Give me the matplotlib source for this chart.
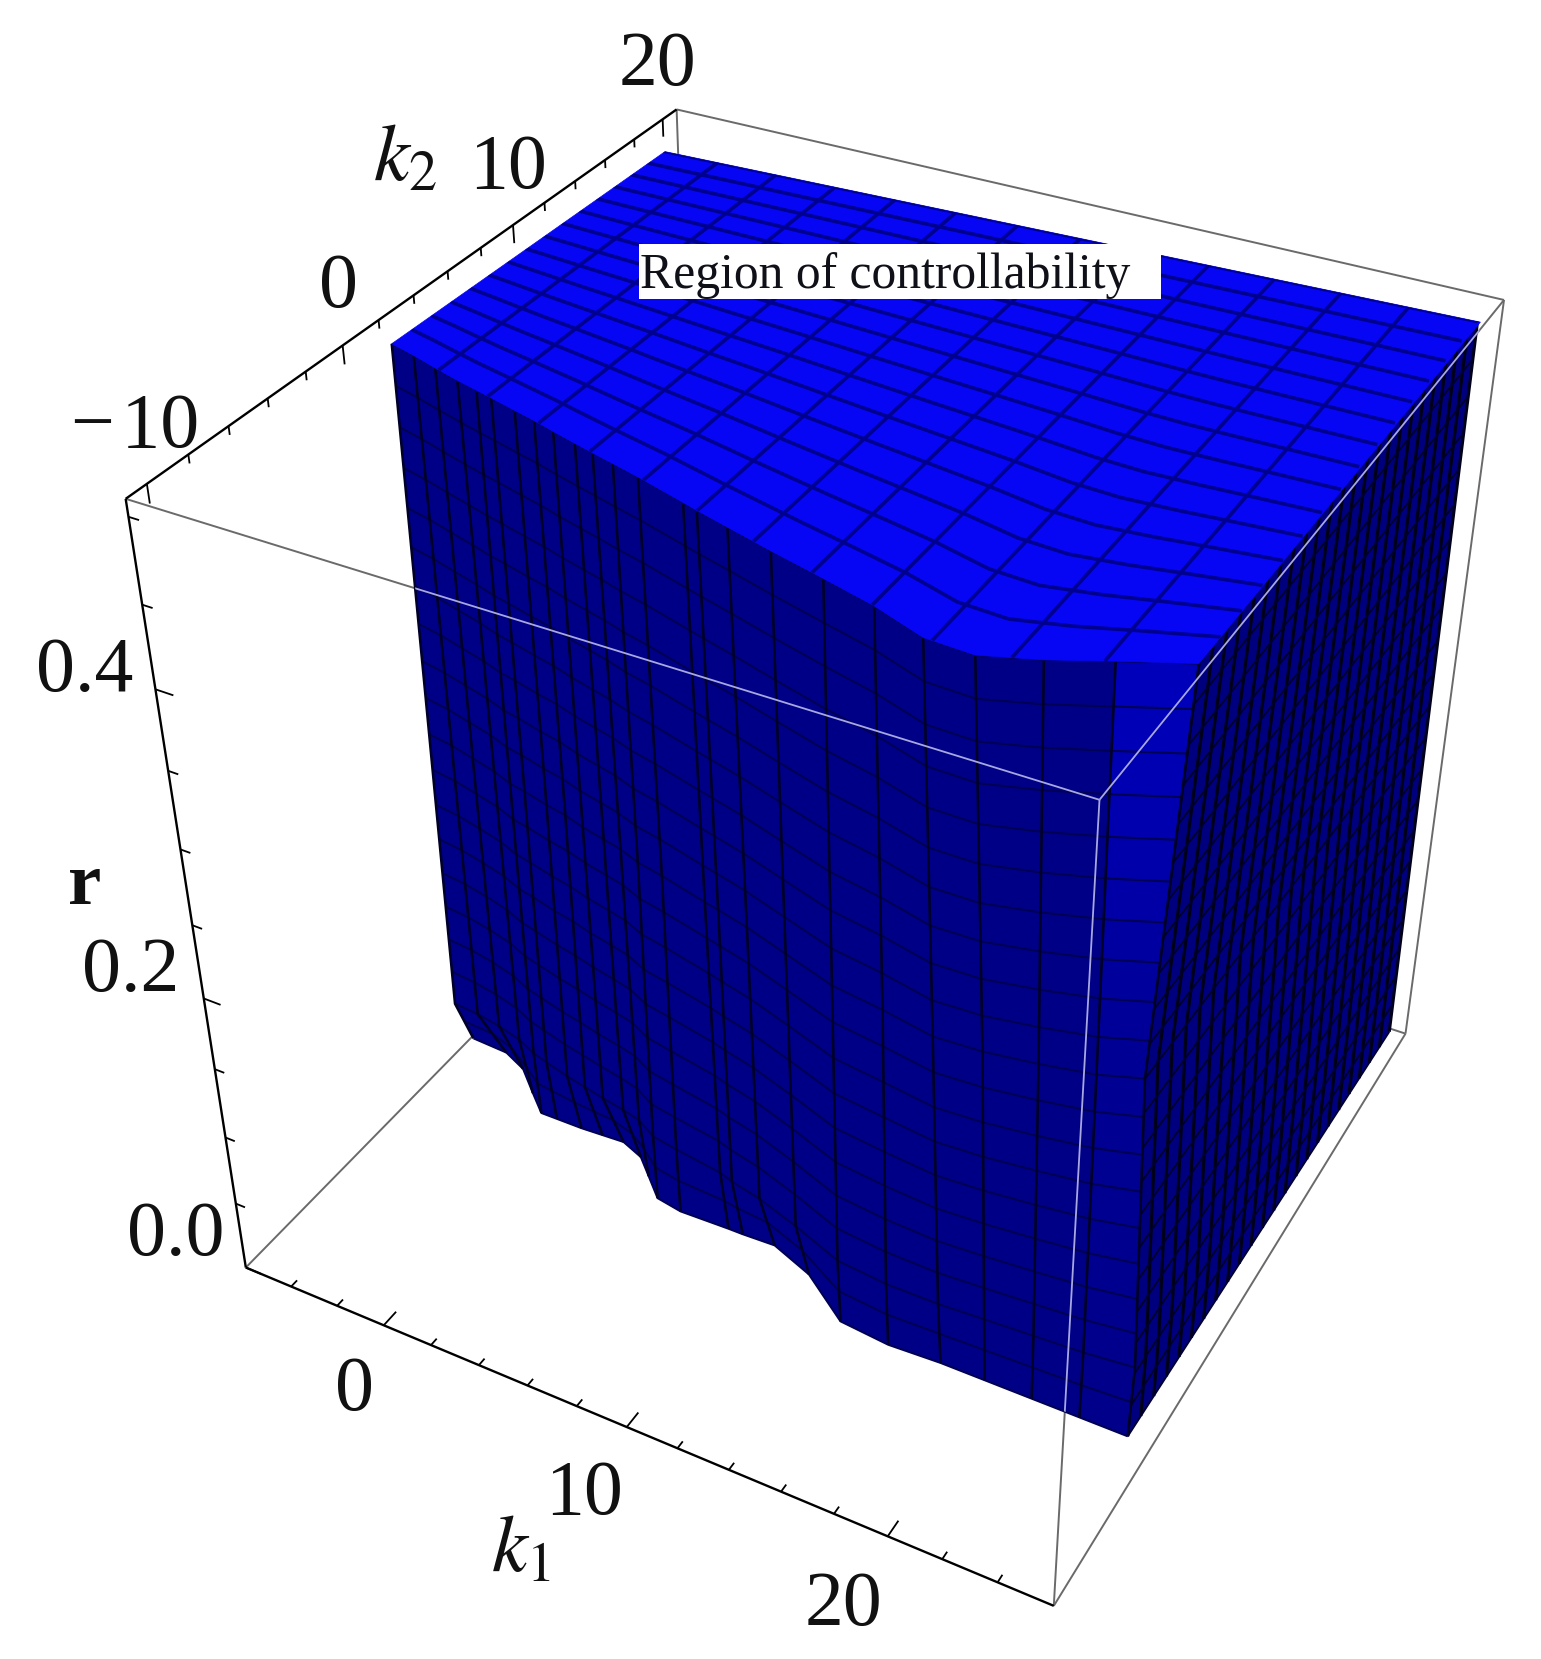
import numpy as np
import matplotlib
matplotlib.use("Agg")
import matplotlib.pyplot as plt
from matplotlib.collections import PolyCollection, LineCollection
from matplotlib.patches import Polygon, Rectangle

plt.rcParams['font.family'] = ['Liberation Serif', 'DejaVu Serif']
plt.rcParams['mathtext.fontset'] = 'stix'

# box of the plot
k1_range = (-6, 26)
k2_range = (-11, 21)
r_range = (0, 0.51)

# camera fitted on the box corners of the picture
P = np.array([[2.06841950e+01, 1.77485557e+01, -2.63503997e+02, 5.53759610e+02],
              [4.91205491e+00, -9.03205925e+00, -1.59142842e+03, 1.13880952e+03],
              [-3.21912855e-03, 5.97639600e-03, -3.08978680e-01, 1.0]])

# front wall: k2 of the wall for every k1 mesh line, at four heights
r_levels = [0, 0.05, 0.25, 0.5]
k1_front = [-5.4, -4.3, -3.2, -2.1, -1.2, -0.5, 0.6, 1.5, 2.4, 3.4, 4.2, 5.1,
            6.2, 8.2, 8.8, 10.1, 11.9, 14.0, 16.0, 18.0, 19.7, 21.5, 23.3, 25.4]
k2_bottom = [3.4, 3.3, 2.8, 1.8, 1.0, 1.0, 1.0, 1.05, 1.1, 0.7, -0.05, -0.9,
             -1.1, -1.05, -1.05, -1.0, -1.7, -3.2, -3.4, -3.3, -3.3, -3.3, -3.3, -3.3]
k2_low = [1.8, 1.7, 1.5, 1.2, 0.8, 0.6, 0.3, 0.1, -0.1, -0.3, -0.5, -1.0,
          -1.2, -1.5, -1.7, -2.0, -2.6, -3.4, -3.6, -3.6, -3.5, -3.4, -3.3, -3.1]
k2_mid = [1.8, 1.6, 1.3, 1.0, 0.65, 0.5, 0.2, 0.0, -0.3, -0.55, -0.75, -1.1,
          -1.35, -1.9, -2.05, -2.4, -3.0, -3.7, -4.0, -4.4, -4.3, -4.0, -3.6, -3.05]
k2_top = [1.8, 1.47, 1.1, 0.75, 0.5, 0.3, -0.02, -0.28, -0.57, -0.88, -1.12, -1.38,
          -1.7, -2.35, -2.55, -2.95, -3.5, -4.1, -4.7, -5.5, -5.6, -4.9, -4.0, -3.0]

# the two outer mesh lines of the front wall lean a little in k1
k1_left_edge = [-5.9, -5.4, -5.4, -5.4]
k1_right_edge = [25.1, 25.1, 24.7, 25.4]

# back edge of the top face and right wall
k1_back = [-5.2, 25.5]
k2_back = [18.8, 20.3]
k2_right_back_bottom = 20.8
r_top = 0.5

# ticks
k1_ticks = [-4, -2, 0, 2, 4, 6, 8, 10, 12, 14, 16, 18, 20, 22, 24]
k2_ticks = [-10, -8, -6, -4, -2, 0, 2, 4, 6, 8, 10, 12, 14, 16, 18, 20]
r_ticks = [0.0, 0.05, 0.1, 0.15, 0.2, 0.25, 0.3, 0.35, 0.4, 0.45, 0.5]
k1_major = [0, 10, 20]
k2_major = [-10, 0, 10, 20]
r_major = [0.0, 0.2, 0.4]


def proj(k1, k2, r):
    k1, k2, r = np.broadcast_arrays(k1, k2, r)
    h = P @ np.array([k1, k2, r, np.ones(k1.shape)], dtype=float).reshape(4, -1)
    return (h[:2] / h[2]).T.reshape(k1.shape + (2,))


def quads(xy):
    return np.stack([xy[:-1, :-1], xy[:-1, 1:], xy[1:, 1:], xy[1:, :-1]], axis=2).reshape(-1, 4, 2)


fig = plt.figure(figsize=(15.41, 16.59), dpi=100)
ax = fig.add_axes([0, 0, 1, 1])
ax.set_xlim(0, 1541)
ax.set_ylim(1659, 0)
ax.axis('off')

# box edges, back ones first
x0, x1 = k1_range
y0, y1 = k2_range
z0, z1 = r_range
edges = [((x0, y0, z1), (x1, y0, z1)), ((x1, y0, z1), (x1, y1, z1)), ((x0, y1, z1), (x1, y1, z1)),
         ((x1, y0, z0), (x1, y0, z1)), ((x1, y1, z0), (x1, y1, z1)), ((x0, y1, z0), (x0, y1, z1)),
         ((x0, y0, z0), (x0, y1, z0)), ((x1, y0, z0), (x1, y1, z0)), ((x0, y1, z0), (x1, y1, z0))]
ax.add_collection(LineCollection([proj(*zip(a, b)) for a, b in edges], colors='#6a6a6a', linewidths=1.4, zorder=1))

axes_lines = [((x0, y0, z1), (x0, y0, z0)), ((x0, y0, z0), (x1, y0, z0)), ((x0, y0, z1), (x0, y1, z1))]
ax.add_collection(LineCollection([proj(*zip(a, b)) for a, b in axes_lines], colors='black', linewidths=1.7, zorder=2))

ticks = []
for t in k1_ticks:
    d = 0.75 if t in k1_major else 0.35
    ticks.append(proj([t, t], [y0, y0 + d], [z0, z0]))
for t in k2_ticks:
    d = 0.011 if t in k2_major else 0.005
    ticks.append(proj([x0, x0], [t, t], [z1, z1 - d]))
for t in r_ticks:
    d = 0.7 if t in r_major else 0.4
    ticks.append(proj([x0, x0 + d], [y0, y0], [t, t]))
ax.add_collection(LineCollection(ticks, colors='black', linewidths=1.3, zorder=2))

# front wall mesh
front_r = np.arange(0, r_top + 0.001, 0.025)
table = np.array([k2_bottom, k2_low, k2_mid, k2_top])
K2f = np.array([np.interp(front_r, r_levels, table[:, i]) for i in range(len(k1_front))]).T
K1f = np.tile(np.array(k1_front, float), (len(front_r), 1))
K1f[:, 0] = np.interp(front_r, r_levels, k1_left_edge)
K1f[:, -1] = np.interp(front_r, r_levels, k1_right_edge)
front_xy = proj(K1f, K2f, front_r[:, None])

# right wall
s = np.linspace(0, 1, 24)
right_r = np.linspace(0, r_top, 23)
right_k2_top = k2_top[-1] + s * (k2_back[1] - k2_top[-1])
right_k2_bot = k2_bottom[-1] + s * (k2_right_back_bottom - k2_bottom[-1])
K2r = np.outer(right_r / r_top, right_k2_top) + np.outer(1 - right_r / r_top, right_k2_bot)
corner_k1 = np.interp(right_r, r_levels, k1_right_edge)
K1r = np.outer(corner_k1, 1 - s) + k1_front[-1] * s
right_xy = proj(K1r, K2r, right_r[:, None])
ax.add_collection(PolyCollection(quads(right_xy), facecolors='#00007e', edgecolors='none', zorder=3))
ax.add_collection(LineCollection([right_xy[:, i] for i in range(len(s))], colors='#00001a', linewidths=2.3, zorder=3))
ax.add_collection(LineCollection([right_xy[j] for j in range(len(right_r))], colors='#000030', linewidths=1.4, zorder=3))

# front wall, the rounded corner catches more light near the top
corner_shade = np.interp(front_r[:-1], [0, 0.25, 0.42, 0.5], [0.54, 0.58, 0.70, 0.74])
cols = []
for j in range(len(front_r) - 1):
    for i in range(len(k1_front) - 1):
        cols.append((0, 0, corner_shade[j] if i == len(k1_front) - 2 else 0.53))
ax.add_collection(PolyCollection(quads(front_xy), facecolors=cols, edgecolors='none', zorder=4))
ax.add_collection(LineCollection([front_xy[j] for j in range(len(front_r))], colors='#000054', linewidths=1.5, zorder=5))
ax.add_collection(LineCollection([front_xy[:, i] for i in range(len(k1_front))], colors='#000028', linewidths=1.9, zorder=5))

# top face
k1f = np.array(k1_front)
k2f = np.array(k2_top)
back_k2 = np.interp(k1f, k1_back, k2_back)
chord = np.interp(k1f, [k1f[0], k1f[-1]], [k2f[0], k2f[-1]])
outline = np.vstack([proj(k1f, k2f, r_top), proj(k1_back[::-1], k2_back[::-1], r_top)])
top_patch = Polygon(outline, closed=True, facecolor='#0606f4', edgecolor='#0606f4', linewidth=0.5, zorder=6)
ax.add_patch(top_patch)
top_rows = []
for t in np.linspace(0, 1, 16)[1:]:
    # the wave of the front edge dies out towards the back
    row = chord + t * (back_k2 - chord) + (k2f - chord) * (1 - t) ** 3
    top_rows.append(proj(k1f, row, r_top))
top_cols = []
for c in np.linspace(k1f[0], k1f[-1], 14)[1:-1]:
    top_cols.append(proj([c, c], [np.interp(c, k1f, k2f), np.interp(c, k1_back, k2_back)], r_top))
top_lines = LineCollection(top_rows + top_cols, colors='#000090', linewidths=2.6, zorder=7)
ax.add_collection(top_lines)
top_lines.set_clip_path(top_patch)

# front box edges show through the solid as pale lines
silhouette = np.vstack([proj(k1_back, k2_back, r_top), proj(k1_front[-1], k2_right_back_bottom, 0)[None],
                        front_xy[0][::-1], front_xy[:, 0], proj(k1_front[0], k2_top[0], r_top)[None]])
solid = Polygon(silhouette, closed=True, facecolor='none', edgecolor='none')
ax.add_patch(solid)
pale = LineCollection([proj(*zip(a, b)) for a, b in edges[:2] + edges[3:4]], colors='#a8a8e0', linewidths=1.3, zorder=8)
ax.add_collection(pale)
pale.set_clip_path(solid)

# text box
ax.add_patch(Rectangle((639, 244), 522, 55, facecolor='white', edgecolor='none', zorder=9))
ax.text(640, 288, 'Region of controllability', fontsize=35.7, va='baseline', ha='left', color='#101018', zorder=10)

labels = [('20', 658, 66), ('10', 508, 169), ('0', 339, 288), ('\u2212\u200a10', 135, 428),
          ('0.4', 85, 672), ('0.2', 131, 972), ('0.0', 176, 1236),
          ('0', 355, 1391), ('10', 584, 1495), ('20', 844, 1606)]
for s_, x, y in labels:
    ax.text(x, y, s_, fontsize=56, ha='center', va='center', color='#111111')
ax.text(405, 161, '$k_2$', fontsize=58, ha='center', va='center', color='#111111')
ax.text(521, 1552, '$k_1$', fontsize=58, ha='center', va='center', color='#111111')
ax.text(85, 886, 'r', fontsize=54, fontweight='bold', ha='center', va='center', color='#111111')

plt.savefig('out.png', dpi=100)
